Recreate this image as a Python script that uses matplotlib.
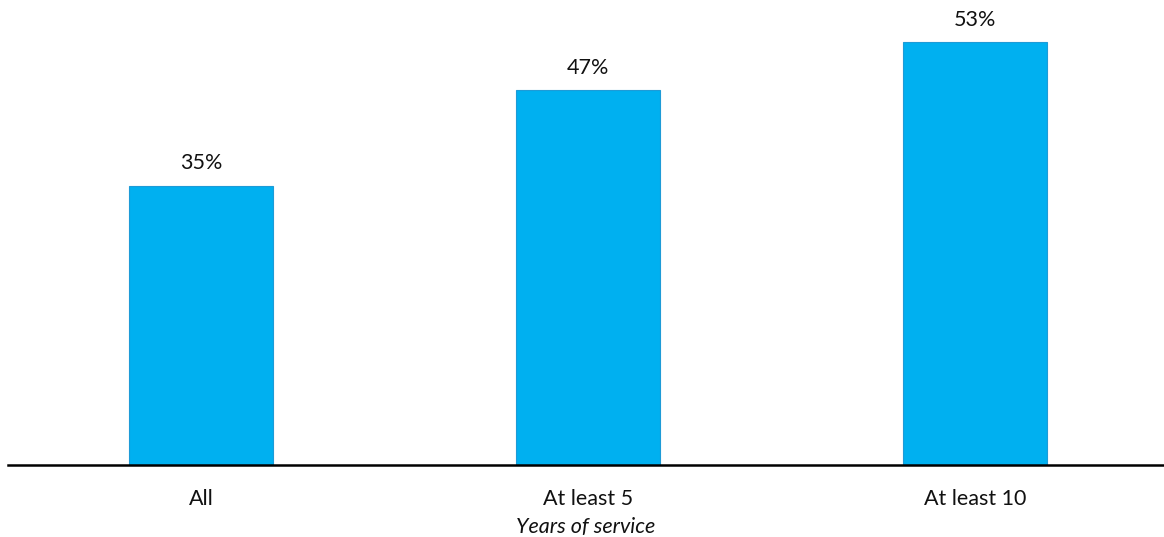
import matplotlib
matplotlib.use("Agg")
import matplotlib.pyplot as plt

plt.rcParams['font.family'] = ['Lato', 'DejaVu Sans']

# data
categories = ['All', 'At least 5', 'At least 10']
values = [35, 47, 53]
labels = ['35%', '47%', '53%']

fig = plt.figure(figsize=(11.64, 5.37), dpi=100)
ax = fig.add_axes([8 / 1164, 1 - 465 / 537, 1156 / 1164, 465 / 537])

x = list(range(len(categories)))
bars = ax.bar(x, values, width=0.372, color='#00B0F0', edgecolor='#1E9BD7', linewidth=0.8)

for b, lab in zip(bars, labels):
    ax.annotate(lab, (b.get_x() + b.get_width() / 2, b.get_height()),
                xytext=(0, 9), textcoords='offset points',
                ha='center', va='bottom', fontsize=15.5, color='#111111')

ax.set_xlim(-0.4987, 2.488)
ax.set_ylim(0, 58.3)
ax.set_xticks(x)
ax.set_xticklabels(categories, fontsize=15.5, color='#111111')
ax.tick_params(axis='x', length=0, pad=17)
ax.set_yticks([])
for s in ['top', 'right', 'left']:
    ax.spines[s].set_visible(False)
ax.spines['bottom'].set_linewidth(1.8)
ax.spines['bottom'].set_color('black')
ax.set_xlabel('Years of service', fontsize=15.5, style='italic', color='#111111', labelpad=6)

fig.savefig('out.png', dpi=100)
